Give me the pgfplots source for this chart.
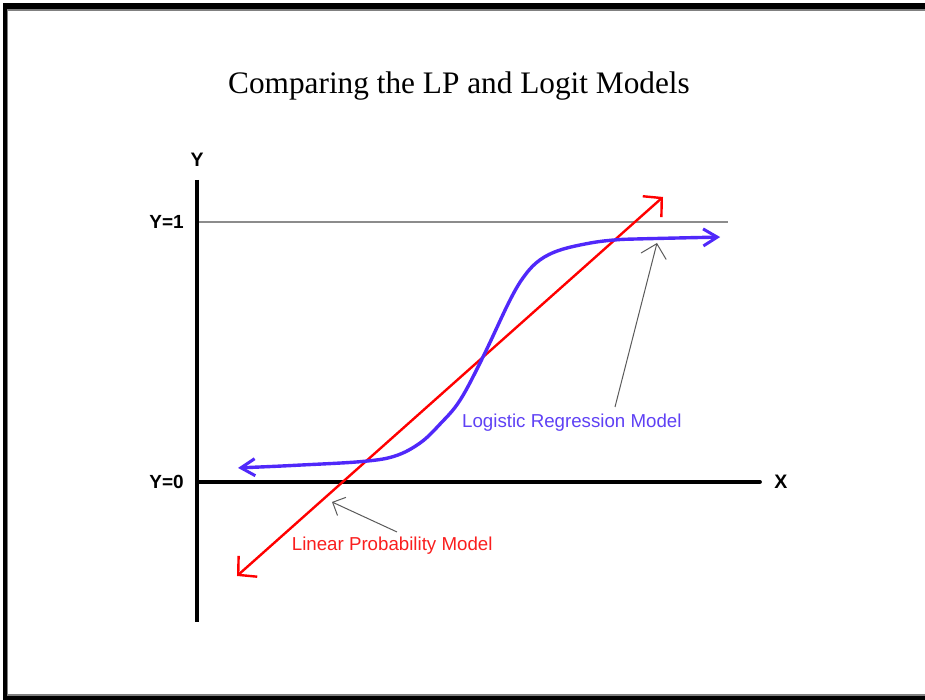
\documentclass[border=0pt]{standalone}
\usepackage{fontspec}
\setmainfont{Liberation Serif}
\newfontfamily\arial{Liberation Sans}
\usepackage{pgfplots}
\pgfplotsset{compat=1.18}
\usetikzlibrary{arrows.meta}
\definecolor{logitblue}{RGB}{80,40,250}
\definecolor{logitlabel}{RGB}{95,65,245}
\definecolor{lpred}{RGB}{255,0,0}
\definecolor{lplabel}{RGB}{250,30,30}
\definecolor{refgray}{RGB}{140,140,140}
\definecolor{notegray}{RGB}{90,90,90}
\begin{document}
\begin{tikzpicture}
\begin{axis}[
  scale only axis, width=925pt, height=700pt,
  xmin=-0.7577, xmax=2.8, ymin=-0.8385, ymax=1.8538,
  hide axis, clip=false,
]
% background and frame
\fill[white] (rel axis cs:0,0) rectangle (rel axis cs:1,1);
\fill[black] (rel axis cs:0.00324,0) rectangle (rel axis cs:1,0.99571);
\fill[gray] (rel axis cs:0.00757,0.00571) rectangle (rel axis cs:1,0.98714);
\fill[white] (rel axis cs:0.00865,0.00857) rectangle (rel axis cs:1,0.98429);
% title
\node[anchor=base, font=\fontsize{31.3}{36}\selectfont] at (axis cs:1.0077,1.496) {Comparing the LP and Logit Models};
% reference line Y=1
\addplot[refgray, line width=1.3pt, no marks] coordinates {(0.008,1) (2.042,1)};
% axes
\addplot[black, line width=4pt, no marks] coordinates {(0,1.1615) (0,-0.5385)};
\addplot[black, line width=4pt, no marks, line cap=round] coordinates {(0,0) (2.165,0)};
% axis labels
\node[font=\arial\bfseries\fontsize{19.5}{22}\selectfont] at (axis cs:0,1.2404) {Y};
\node[font=\arial\bfseries\fontsize{19.5}{22}\selectfont] at (axis cs:2.246,0) {X};
\node[anchor=east, inner sep=0pt, font=\arial\bfseries\fontsize{19}{22}\selectfont] at (axis cs:-0.05,1) {Y=1};
\node[anchor=east, inner sep=0pt, font=\arial\bfseries\fontsize{19}{22}\selectfont] at (axis cs:-0.05,0) {Y=0};
% linear probability model
\addplot[lpred, line width=2.4pt, no marks,
  {Straight Barb[length=13pt,width=28pt,line width=2.4pt]}-{Straight Barb[length=13pt,width=28pt,line width=2.4pt]}]
  coordinates {(0.1538,-0.3615) (1.7923,1.0962)};
% logistic regression model
\addplot[logitblue, line width=3.4pt, no marks, smooth, tension=0.6,
  {Straight Barb[length=14pt,width=17pt,line width=3pt]}-{Straight Barb[length=14pt,width=17pt,line width=3pt]}]
  coordinates {
  (0.158,0.054) (0.396,0.065) (0.638,0.079) (0.762,0.100) (0.858,0.150)
  (0.935,0.223) (1.012,0.315) (1.100,0.481) (1.204,0.700) (1.262,0.796)
  (1.319,0.854) (1.396,0.892) (1.512,0.919) (1.608,0.931) (1.704,0.935)
  (2.012,0.942)};
% annotations
\addplot[notegray, line width=1pt, no marks, -{Straight Barb[length=13pt,width=26pt]}]
  coordinates {(1.6077,0.2885) (1.7692,0.9192)};
\addplot[notegray, line width=1pt, no marks, -{Straight Barb[length=10pt,width=20pt]}]
  coordinates {(0.7692,-0.1923) (0.5192,-0.0769)};
\node[anchor=base west, inner sep=0pt, text=logitlabel, font=\arial\fontsize{18.7}{22}\selectfont] at (axis cs:1.0192,0.2077) {Logistic Regression Model};
\node[anchor=base west, inner sep=0pt, text=lplabel, font=\arial\fontsize{18.7}{22}\selectfont] at (axis cs:0.3642,-0.2642) {Linear Probability Model};
\end{axis}
\end{tikzpicture}
\end{document}
